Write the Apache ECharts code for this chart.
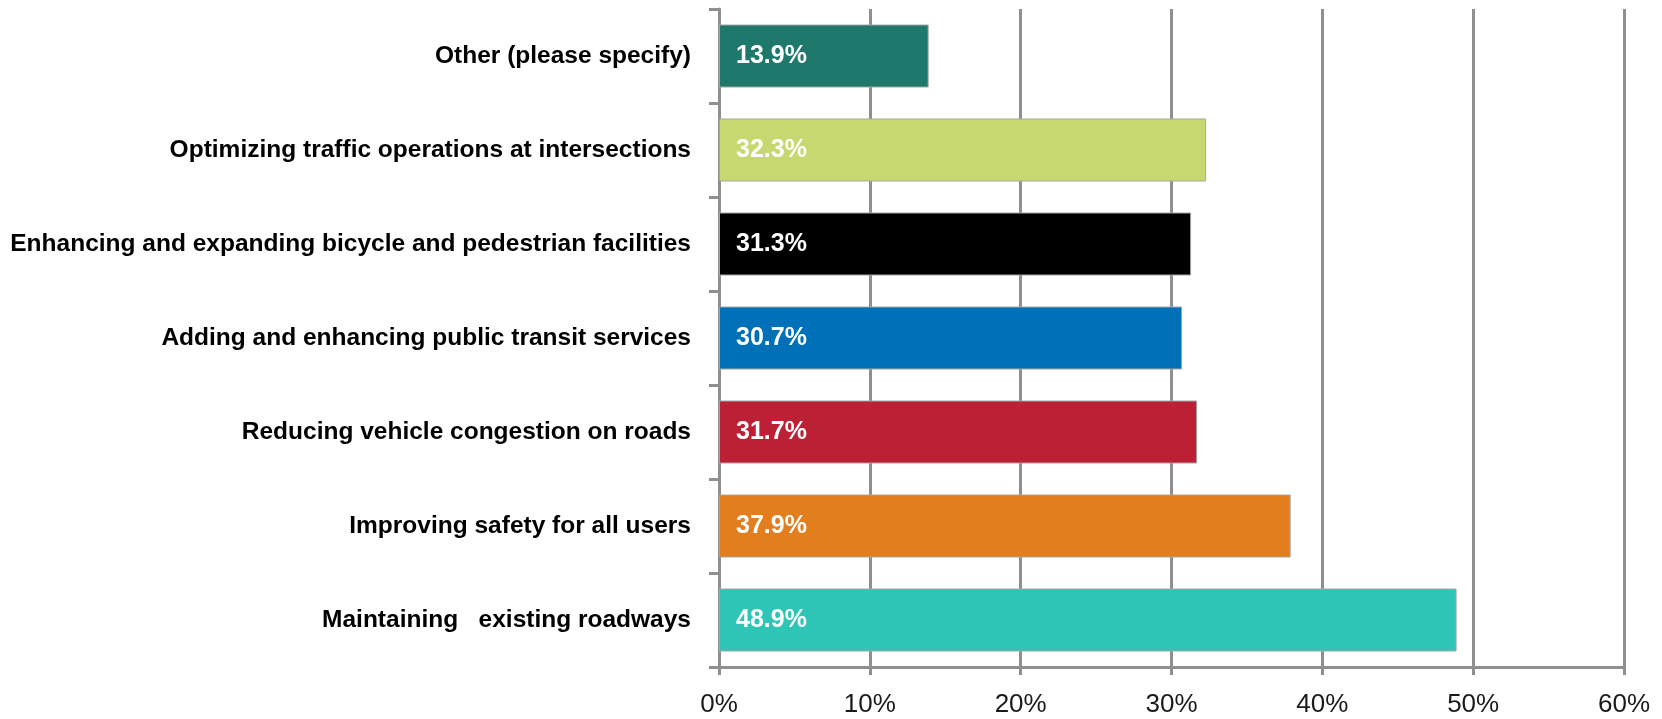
<!DOCTYPE html>
<html>
<head>
<meta charset="utf-8">
<script src="https://cdn.jsdelivr.net/npm/echarts@6/dist/echarts.min.js"></script>
<style>
html,body{margin:0;padding:0;background:#fff;}
#chart{width:1662px;height:719px;}
</style>
</head>
<body>
<div id="chart"></div>
<script>
// Categories listed top to bottom
const categories = [
  "Other (please specify)",
  "Optimizing traffic operations at intersections",
  "Enhancing and expanding bicycle and pedestrian facilities",
  "Adding and enhancing public transit services",
  "Reducing vehicle congestion on roads",
  "Improving safety for all users",
  "Maintaining   existing roadways"
];
const values = [13.9, 32.3, 31.3, 30.7, 31.7, 37.9, 48.9];
const barColors = ["#1e786c", "#c8d870", "#000000", "#0070b8", "#bc2034", "#e27e1e", "#2ec4b6"];
const tickValues = [0, 10, 20, 30, 40, 50, 60];

const chart = echarts.init(document.getElementById('chart'), null, {renderer: 'canvas'});
const gray = '#8f8f8f';
chart.setOption({
  animation: false,
  backgroundColor: '#ffffff',
  grid: {left: 719, right: 38, top: 9, bottom: 52, containLabel: false, outerBoundsMode: 'none'},
  xAxis: {
    type: 'value',
    min: tickValues[0],
    max: tickValues[tickValues.length - 1],
    interval: 10,
    axisLine: {show: true, lineStyle: {color: gray, width: 3}},
    axisTick: {show: true, length: 8, lineStyle: {color: gray, width: 3}},
    splitLine: {show: true, lineStyle: {color: gray, width: 3}},
    axisLabel: {
      formatter: v => v + '%',
      fontFamily: 'Liberation Sans, Arial, sans-serif',
      fontSize: 26,
      color: '#1a1a1a',
      margin: 25
    }
  },
  yAxis: {
    type: 'category',
    data: categories,
    inverse: true,
    axisLine: {show: true, lineStyle: {color: gray, width: 3}},
    axisTick: {show: true, length: 10, lineStyle: {color: gray, width: 3}},
    splitLine: {show: false},
    axisLabel: {
      fontFamily: 'Liberation Sans, Arial, sans-serif',
      fontWeight: 'bold',
      fontSize: 24.5,
      color: '#000000',
      margin: 28
    }
  },
  series: [{
    type: 'bar',
    data: values.map((v, i) => ({value: v, itemStyle: {color: barColors[i]}})),
    barWidth: 63,
    itemStyle: {borderColor: '#a6a6a6', borderWidth: 1},
    label: {
      show: true,
      position: 'insideLeft',
      distance: 17,
      formatter: p => p.value.toFixed(1) + '%',
      fontFamily: 'Liberation Sans, Arial, sans-serif',
      fontWeight: 'bold',
      fontSize: 25,
      color: '#ffffff'
    }
  }]
});
</script>
</body>
</html>
